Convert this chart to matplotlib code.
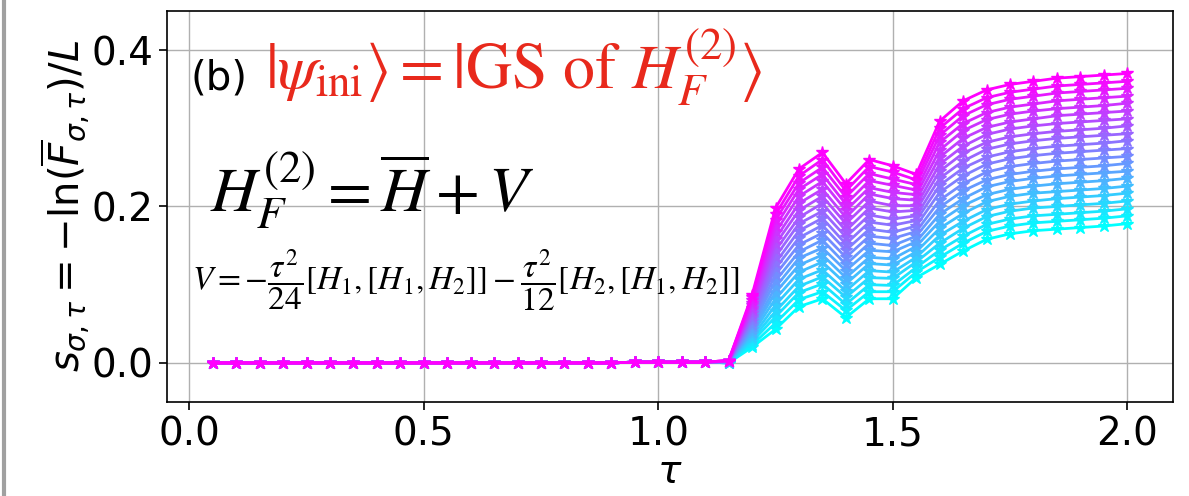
import numpy as np
import matplotlib
matplotlib.use("Agg")
import matplotlib.pyplot as plt
from matplotlib.lines import Line2D

plt.rcParams['mathtext.fontset'] = 'dejavusans'

# tau grid
tau_low = [0.05, 0.10, 0.15, 0.20, 0.25, 0.30, 0.35, 0.40, 0.45, 0.50, 0.55,
           0.60, 0.65, 0.70, 0.75, 0.80, 0.85, 0.90, 0.95, 1.00, 1.05, 1.10]
tau_high = [1.15, 1.20, 1.25, 1.30, 1.35, 1.40, 1.45, 1.50, 1.55, 1.60,
            1.65, 1.70, 1.75, 1.80, 1.85, 1.90, 1.95, 2.00]

# all curves coincide (~0) for tau <= 1.1
s_low = [0.0, 0.0, 0.0, 0.0, 0.0, 0.0, 0.0, 0.0, 0.0, 0.0, 0.0,
         0.0, 0.0, 0.0, 0.0, 0.0, 0.0, 0.0, 0.001, 0.001, 0.001, 0.001]

# curves for tau >= 1.15 (cyan -> magenta)
s00 = [.000, .020, .043, .072, .082, .058, .082, .082, .109, .126, .143, .158, .165, .169, .171, .173, .175, .178]
s01 = [.000, .023, .051, .081, .091, .067, .091, .091, .116, .135, .153, .168, .175, .179, .181, .183, .185, .188]
s02 = [.000, .027, .059, .090, .101, .075, .100, .099, .122, .144, .162, .177, .184, .188, .190, .192, .194, .197]
s03 = [.000, .030, .066, .098, .110, .084, .109, .108, .129, .153, .172, .187, .194, .198, .200, .202, .204, .207]
s04 = [.001, .033, .074, .107, .119, .092, .118, .116, .135, .163, .181, .196, .203, .207, .210, .212, .214, .217]
s05 = [.001, .037, .082, .116, .129, .101, .127, .125, .142, .172, .191, .206, .213, .217, .219, .221, .223, .226]
s06 = [.001, .040, .090, .125, .138, .109, .135, .133, .149, .181, .201, .215, .222, .226, .229, .231, .233, .236]
s07 = [.001, .043, .097, .134, .147, .118, .144, .142, .155, .190, .210, .225, .232, .236, .239, .241, .243, .245]
s08 = [.001, .047, .105, .142, .157, .126, .153, .150, .162, .199, .220, .234, .241, .245, .248, .250, .252, .255]
s09 = [.001, .050, .113, .151, .166, .135, .162, .159, .168, .208, .229, .244, .251, .255, .258, .260, .262, .264]
s10 = [.002, .054, .121, .160, .176, .144, .171, .167, .175, .218, .239, .254, .261, .265, .268, .270, .272, .274]
s11 = [.002, .057, .128, .169, .185, .152, .180, .176, .182, .227, .249, .263, .270, .274, .277, .279, .281, .284]
s12 = [.002, .060, .136, .178, .194, .161, .189, .184, .188, .236, .258, .273, .280, .284, .287, .289, .291, .293]
s13 = [.002, .064, .144, .186, .204, .169, .198, .193, .195, .245, .268, .282, .289, .293, .296, .298, .300, .303]
s14 = [.002, .067, .152, .195, .213, .178, .207, .201, .201, .254, .277, .292, .299, .303, .306, .308, .310, .312]
s15 = [.002, .070, .159, .204, .222, .186, .216, .210, .208, .263, .287, .301, .308, .312, .316, .318, .320, .322]
s16 = [.002, .074, .167, .213, .232, .195, .224, .218, .215, .272, .297, .311, .318, .322, .325, .327, .329, .332]
s17 = [.003, .077, .175, .222, .241, .203, .233, .227, .221, .282, .306, .320, .327, .331, .335, .337, .339, .341]
s18 = [.003, .080, .183, .230, .250, .212, .242, .235, .228, .291, .316, .330, .337, .341, .345, .347, .349, .351]
s19 = [.003, .084, .190, .239, .260, .220, .251, .244, .234, .300, .325, .339, .346, .350, .354, .356, .358, .360]
s20 = [.003, .087, .198, .248, .269, .229, .260, .252, .241, .309, .335, .349, .356, .360, .364, .366, .368, .370]

curves = [s00, s01, s02, s03, s04, s05, s06, s07, s08, s09, s10,
          s11, s12, s13, s14, s15, s16, s17, s18, s19, s20]

xticks = [0.0, 0.5, 1.0, 1.5, 2.0]
yticks = [0.0, 0.2, 0.4]

fig = plt.figure(figsize=(11.89, 4.96), dpi=100)
ax = fig.add_axes([0.1405, 0.1895, 0.846, 0.7885])

tau = tau_low + tau_high
cmap = plt.get_cmap('cool')
n = len(curves)
for k, c in enumerate(curves):
    y = s_low + c
    ax.plot(tau, y, '-*', color=cmap(k / (n - 1)), lw=2, ms=9, zorder=2 + k * 0.01)

ax.set_xlim(-0.0475, 2.0975)
ax.set_ylim(-0.05, 0.45)
ax.set_xticks(xticks)
ax.set_yticks(yticks)
ax.set_xticklabels([f"{v:.1f}" for v in xticks])
ax.set_yticklabels([f"{v:.1f}" for v in yticks])
ax.tick_params(labelsize=28, length=6, width=1.2)
ax.grid(True, color='#b0b0b0', lw=1)
ax.set_axisbelow(True)
for sp in ax.spines.values():
    sp.set_linewidth(1.2)

ax.set_xlabel(r'$\tau$', fontsize=28, labelpad=0)
ax.set_ylabel(r'$s_{\sigma,\tau}=-\ln(\overline{F}_{\sigma,\tau})/L$', fontsize=29, labelpad=0)

ax.text(0.023, 0.80, '(b)', transform=ax.transAxes, fontsize=29, color='black',
        va='baseline', ha='left')
ax.text(0.097, 0.80, r'$|\psi_{\rm ini}\rangle = |{\rm GS\ of\ }H_F^{(2)}\rangle$',
        transform=ax.transAxes, fontsize=46, color='#e8291c', va='baseline', ha='left',
        math_fontfamily='stix')
ax.text(0.043, 0.486, r'$H_F^{(2)} = \overline{H} + V$', transform=ax.transAxes,
        fontsize=46, color='black', va='baseline', ha='left', math_fontfamily='stix')
ax.text(0.025, 0.31,
        r'$V = -\dfrac{\tau^2}{24}[H_1,[H_1,H_2]] - \dfrac{\tau^2}{12}[H_2,[H_1,H_2]]$',
        transform=ax.transAxes, fontsize=24, color='black', va='center', ha='left',
        math_fontfamily='stix')

fig.add_artist(Line2D([0.0037, 0.0037], [0, 1], transform=fig.transFigure,
                      color='#a0a0a0', lw=3))

fig.savefig('out.png', dpi=100)
